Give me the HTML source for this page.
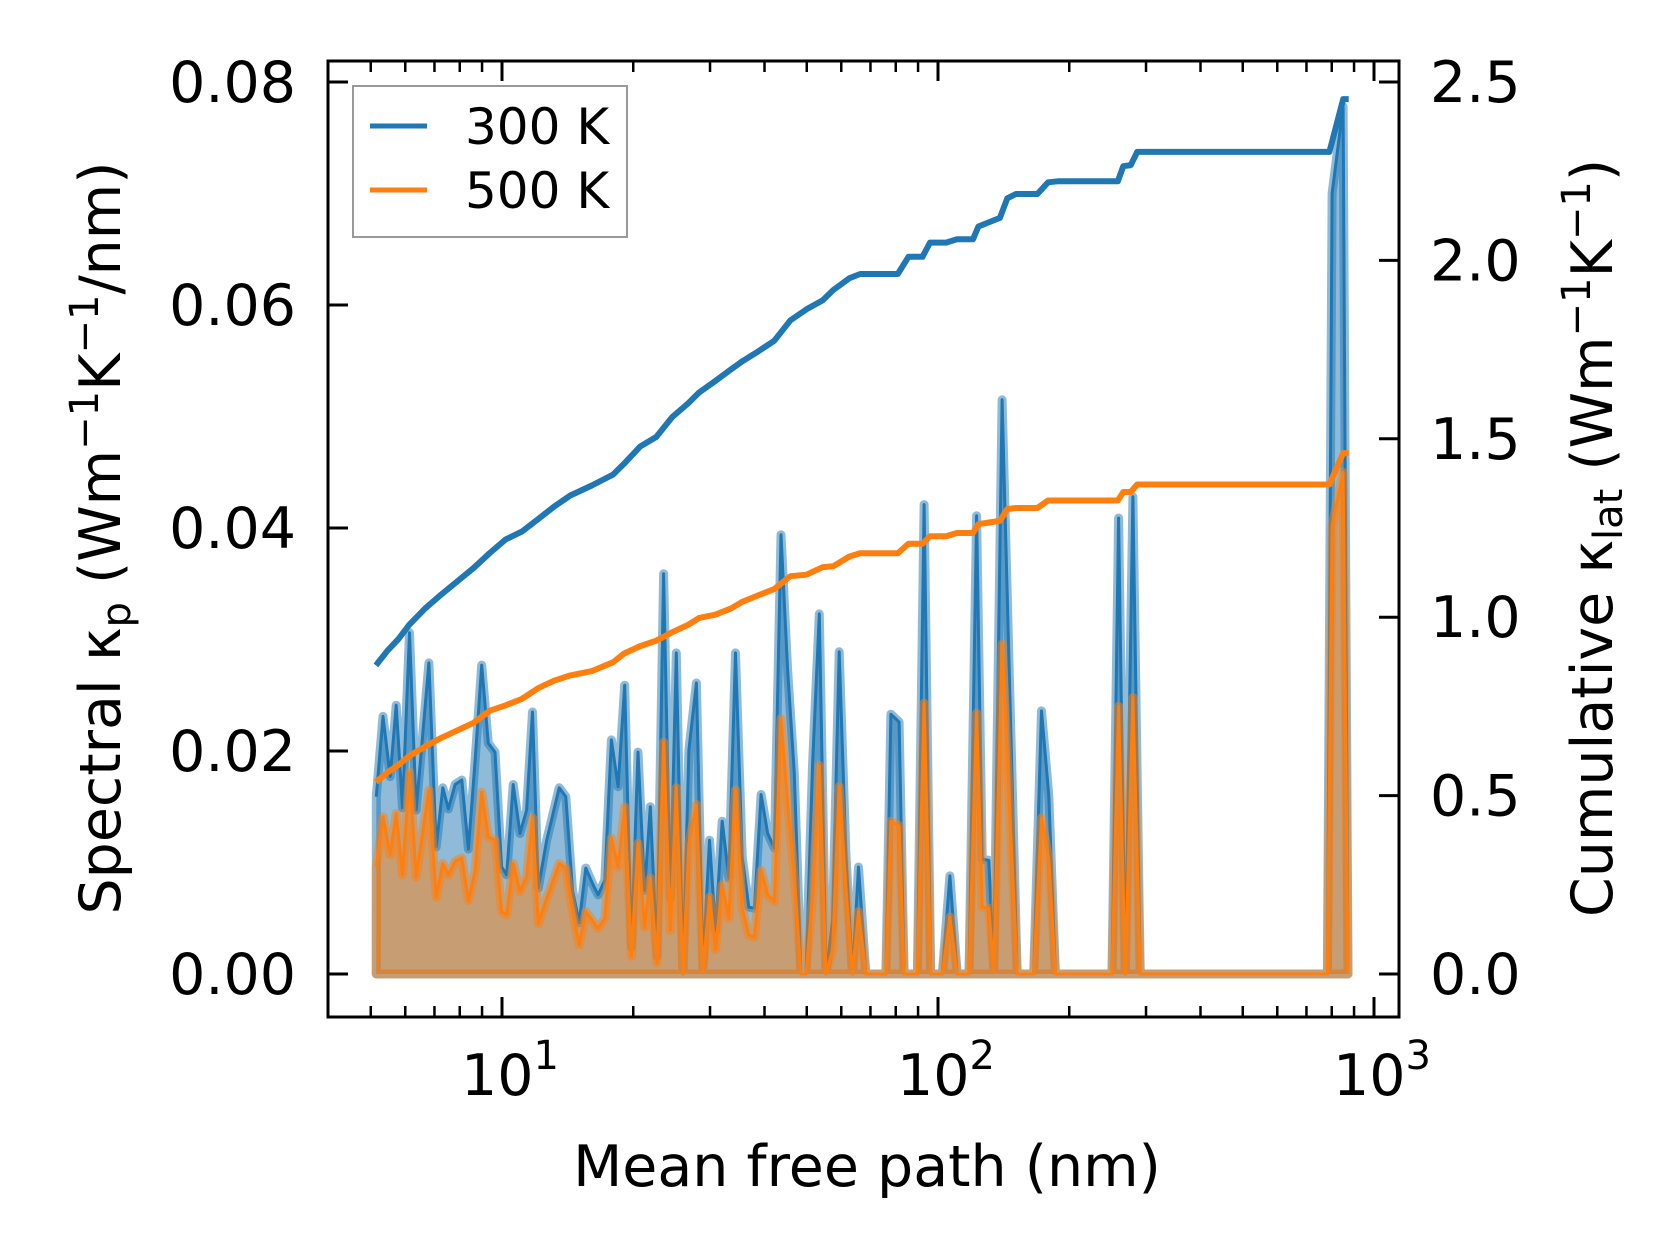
<!DOCTYPE html>
<html><head><meta charset="utf-8"><style>
html,body{margin:0;padding:0;background:#fff;}
svg{display:block;font-family:"DejaVu Sans","Liberation Sans",sans-serif;}
</style></head><body>
<svg id="chart" width="1679" height="1255" viewBox="0 0 1679 1255" xmlns="http://www.w3.org/2000/svg">
<rect width="1679" height="1255" fill="#fff"/>
<g id="marks"></g>
<g id="axes"></g>
<text x="867" y="1186" font-size="57" text-anchor="middle">Mean free path (nm)</text>
<text transform="translate(120,538) rotate(-90)" font-size="57" text-anchor="middle">Spectral κ<tspan font-size="40" dy="10">p</tspan><tspan dy="-10"> (Wm</tspan><tspan font-size="40" dy="-22">−1</tspan><tspan dy="22">K</tspan><tspan font-size="40" dy="-22">−1</tspan><tspan dy="22">/nm)</tspan></text>
<text transform="translate(1612,538) rotate(-90)" font-size="57" text-anchor="middle">Cumulative κ<tspan font-size="40" dy="10">lat</tspan><tspan dy="-10"> (Wm</tspan><tspan font-size="40" dy="-22">−1</tspan><tspan dy="22">K</tspan><tspan font-size="40" dy="-22">−1</tspan><tspan dy="22">)</tspan></text>
<g>
<rect x="353" y="86" width="274" height="151" fill="#fff" fill-opacity="0.8" stroke="#999" stroke-width="2"/>
<line x1="370" y1="126" x2="427" y2="126" stroke="#1f77b4" stroke-width="5"/>
<text x="465" y="144" font-size="50">300 K</text>
<line x1="370" y1="190" x2="427" y2="190" stroke="#ff7f0e" stroke-width="5"/>
<text x="465" y="208" font-size="50">500 K</text>
</g>
</svg>
<script>
// ---- data ----
const mfp = [5.148,5.333,5.542,5.720,5.914,6.137,6.358,6.796,7.063,7.316,7.535,7.805,8.087,8.373,8.673,8.984,9.302,9.638,9.98,10.25,10.61,11.00,11.39,11.75,12.11,12.66,13.53,14.01,14.51,15.03,15.57,16.18,16.61,17.21,17.82,18.46,19.12,19.81,20.51,21.24,21.89,22.67,23.48,24.32,25.11,26.00,26.84,27.91,28.89,29.92,30.88,31.99,33.13,34.32,35.55,36.81,37.93,39.29,40.68,42.14,43.65,45.19,46.82,48.50,49.80,51.57,53.42,55.34,57.30,59.36,61.49,63.67,65.71,68.33,75.93,77.96,81.44,83.61,89.67,92.90,96.23,102.3,106.5,110.7,117.8,122.6,126.3,130.8,134.3,140.3,151.9,165.8,172.7,179.5,185.9,250.6,259.6,268.9,279.9,290.9,781.8,801.5,849.3,871.9];
const spec300 = [0.0159,0.0231,0.0177,0.0241,0.0149,0.0306,0.0147,0.0279,0.0114,0.0167,0.0148,0.0170,0.0174,0.0112,0.0190,0.0277,0.0207,0.0199,0.0096,0.0089,0.0170,0.0126,0.0147,0.0235,0.0077,0.0120,0.0167,0.0159,0.0075,0.0046,0.0095,0.0080,0.0071,0.0084,0.0210,0.0168,0.0259,0.0024,0.0199,0.0075,0.0150,0.0016,0.0359,0.0068,0.0288,0,0.0201,0.0261,0.0007,0.0120,0.0039,0.0137,0.0086,0.0288,0.0105,0.0060,0.0059,0.0161,0.0126,0.0113,0.0394,0.0273,0.0180,0,0,0.0189,0.0323,0,0.0048,0.0289,0.0108,0,0.0096,0,0,0.0233,0.0226,0,0,0.0421,0,0,0.0088,0,0,0.0411,0.0103,0.0102,0.0005,0.0515,0,0,0.0236,0.0160,0,0,0.0409,0,0.0428,0,0,0.0700,0.0778,0];
const spec500 = [0.0096,0.0141,0.0107,0.0144,0.0089,0.0181,0.0087,0.0165,0.0069,0.0099,0.0089,0.0101,0.0104,0.0066,0.0092,0.0163,0.0123,0.0120,0.0056,0.0053,0.0099,0.0074,0.0087,0.0140,0.0045,0.0068,0.0099,0.0095,0.0057,0.0026,0.0056,0.0047,0.0041,0.0050,0.0122,0.0096,0.0150,0.0016,0.0117,0.0042,0.0086,0.0010,0.0208,0.0039,0.0167,0,0.0117,0.0152,0.0002,0.0069,0.0022,0.0080,0.0050,0.0165,0.0059,0.0035,0.0033,0.0093,0.0071,0.0065,0.0229,0.0153,0.0087,0,0,0.0069,0.0187,0,0.0022,0.0168,0.0078,0,0.0056,0,0,0.0137,0.0133,0,0,0.0243,0,0,0.0051,0,0,0.0234,0.0060,0.0059,0.0003,0.0296,0,0,0.0140,0.0103,0,0,0.0240,0,0.0248,0,0,0.0402,0.0450,0];
const cumMfp = [5.137,5.469,5.789,6.128,6.671,7.262,7.907,8.609,9.374,10.20,11.11,12.10,13.17,14.34,16.07,17.99,19.05,20.74,22.58,24.58,26.76,28.33,30.84,33.57,35.54,38.70,42.13,45.87,49.94,54.37,57.54,62.66,66.31,80.87,85.58,92.14,95.87,104.4,110.5,120.3,123.8,138.7,144.2,150.9,169.0,178.9,189.3,258.6,266.1,276.8,286.4,790,850,875];
const cum300 = [0.865,0.907,0.939,0.979,1.025,1.064,1.101,1.138,1.180,1.218,1.240,1.275,1.310,1.341,1.369,1.400,1.430,1.478,1.505,1.561,1.600,1.630,1.662,1.695,1.717,1.745,1.775,1.832,1.863,1.888,1.917,1.950,1.962,1.962,2.010,2.010,2.050,2.050,2.059,2.059,2.095,2.119,2.174,2.186,2.186,2.219,2.222,2.222,2.264,2.267,2.304,2.304,2.452,2.452];
const cum500 = [0.538,0.565,0.586,0.611,0.638,0.662,0.683,0.704,0.738,0.753,0.771,0.801,0.822,0.837,0.849,0.874,0.898,0.919,0.934,0.958,0.979,0.998,1.007,1.025,1.043,1.061,1.079,1.115,1.119,1.140,1.143,1.170,1.179,1.179,1.206,1.206,1.227,1.227,1.236,1.236,1.261,1.270,1.303,1.306,1.306,1.327,1.327,1.327,1.351,1.351,1.372,1.372,1.460,1.460];
const leftTicks = [0,0.02,0.04,0.06,0.08];
const leftTickLabels = ["0.00","0.02","0.04","0.06","0.08"];
const rightTicks = [0,0.5,1.0,1.5,2.0,2.5];
const rightTickLabels = ["0.0","0.5","1.0","1.5","2.0","2.5"];
const xDecades = [1,2,3];

// ---- scales ----
const L=328, R=1399, T=61, B=1017;
const X = v => 502 + (Math.log10(v) - 1) * 436;
const YL = v => 974 - v * 11150;
const YR = v => 974 - v * 356.8;
const NS='http://www.w3.org/2000/svg';
function mk(tag, attrs, parent){const e=document.createElementNS(NS,tag);for(const k in attrs)e.setAttribute(k,attrs[k]);parent.appendChild(e);return e;}
const marks=document.getElementById('marks'), axes=document.getElementById('axes');

function spectral(vals, color, name){
  let d='M'+X(mfp[0])+','+YL(0);
  mfp.forEach((m,i)=>{d+=' L'+X(m).toFixed(1)+','+YL(vals[i]).toFixed(1);});
  d+=' L'+X(mfp[mfp.length-1])+','+YL(0)+' Z';
  const f=mk('path',{d:d,fill:color,'fill-opacity':0.5,stroke:color,'stroke-opacity':0.5,'stroke-width':9,'stroke-linejoin':'round'},marks);
  
  
  const pts=mfp.map((m,i)=>X(m).toFixed(1)+','+YL(vals[i]).toFixed(1)).join(' ');
  const l=mk('polyline',{points:pts,fill:'none',stroke:color,'stroke-width':3,'stroke-linejoin':'round'},marks);
  
  
}
spectral(spec300,'#1f77b4','spectral-300k');
spectral(spec500,'#ff7f0e','spectral-500k');
function cum(vals,color,name){
  const pts=cumMfp.map((m,i)=>X(m).toFixed(1)+','+YR(vals[i]).toFixed(1)).join(' ');
  const l=mk('polyline',{points:pts,fill:'none',stroke:color,'stroke-width':6,'stroke-linejoin':'round'},marks);
  
  
}
cum(cum300,'#1f77b4','cumulative-300k');
cum(cum500,'#ff7f0e','cumulative-500k');

// ---- axes ----
const frame=mk('rect',{x:L,y:T,width:R-L,height:B-T,fill:'none',stroke:'#000','stroke-width':3},axes);


leftTicks.forEach((v,i)=>{
  const y=YL(v);
  const t=mk('line',{x1:L,x2:L+20,y1:y,y2:y,stroke:'#000','stroke-width':3},axes);
  
  
  const tx=mk('text',{x:296,y:y+20,'font-size':57,'text-anchor':'end'},axes);
  tx.textContent=leftTickLabels[i];
  
  
});
rightTicks.forEach((v,i)=>{
  const y=YR(v);
  const t=mk('line',{x1:R-20,x2:R,y1:y,y2:y,stroke:'#000','stroke-width':3},axes);
  
  
  const tx=mk('text',{x:1430,y:y+20,'font-size':57,'text-anchor':'start'},axes);
  tx.textContent=rightTickLabels[i];
  
  
});
for(let e=0;e<=3;e++){
  for(let k=1;k<10;k++){
    const v=k*Math.pow(10,e), x=X(v);
    if(x<L+2||x>R-2) continue;
    const len = k===1?20:11;
    [[B,B-len],[T,T+len]].forEach(p=>{
      const t=mk('line',{x1:x,x2:x,y1:p[0],y2:p[1],stroke:'#000','stroke-width':k===1?3:2.5},axes);
      
      
    });
  }
}
xDecades.forEach(p=>{
  const x=X(Math.pow(10,p));
  const tx=mk('text',{x:x+8,y:1095,'font-size':57,'text-anchor':'middle'},axes);
  
  
  tx.innerHTML='10<tspan font-size="40" dy="-26">'+p+'</tspan>';
});
</script>
</body></html>
